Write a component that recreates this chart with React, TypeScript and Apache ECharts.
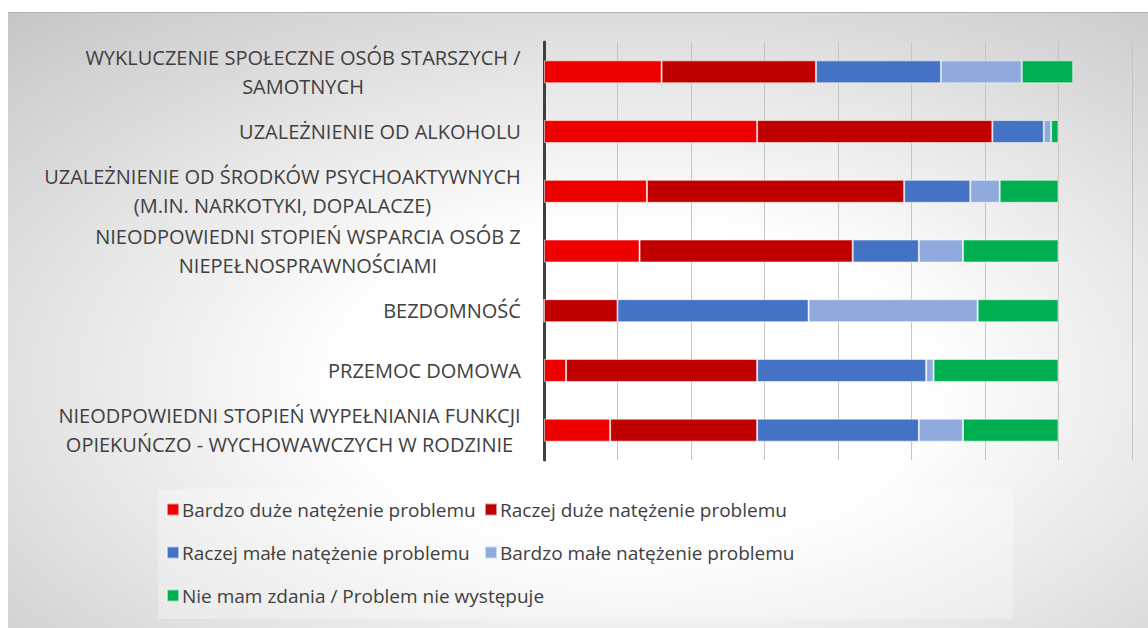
import React, { useEffect, useRef } from "react";
import * as echarts from "echarts";

const categories = [
  "WYKLUCZENIE SPOŁECZNE OSÓB STARSZYCH /\nSAMOTNYCH",
  "UZALEŻNIENIE OD ALKOHOLU",
  "UZALEŻNIENIE OD ŚRODKÓW PSYCHOAKTYWNYCH\n(M.IN. NARKOTYKI, DOPALACZE)",
  "NIEODPOWIEDNI STOPIEŃ WSPARCIA OSÓB Z\nNIEPEŁNOSPRAWNOŚCIAMI",
  "BEZDOMNOŚĆ",
  "PRZEMOC DOMOWA",
  "NIEODPOWIEDNI STOPIEŃ WYPEŁNIANIA FUNKCJI\nOPIEKUŃCZO - WYCHOWAWCZYCH W RODZINIE",
];

const seriesNames = [
  "Bardzo duże natężenie problemu",
  "Raczej duże natężenie problemu",
  "Raczej małe natężenie problemu",
  "Bardzo małe natężenie problemu",
  "Nie mam zdania / Problem nie występuje",
];

const bardzoDuze = [16, 29, 14, 13, 0, 3, 9];
const raczejDuze = [21, 32, 35, 29, 10, 26, 20];
const raczejMale = [17, 7, 9, 9, 26, 23, 22];
const bardzoMale = [11, 1, 4, 6, 23, 1, 6];
const nieMam = [7, 1, 8, 13, 11, 17, 13];

const seriesValues = [bardzoDuze, raczejDuze, raczejMale, bardzoMale, nieMam];
const seriesColors = ["#EE0000", "#C00000", "#4472C4", "#8FAADC", "#00B050"];

const FONT = '"Open Sans", "DejaVu Sans", sans-serif';
const LABEL_SIZE = 20;
const LEGEND_SIZE = 19;
const TEXT_COLOR = "#404040";

function measure(text: string): number {
  const c = document.createElement("canvas");
  const ctx = c.getContext("2d");
  if (!ctx) return text.length * 12;
  ctx.font = `${LABEL_SIZE}px "Open Sans"`;
  return ctx.measureText(text).width;
}

export default function App() {
  const ref = useRef<HTMLDivElement>(null);

  useEffect(() => {
    if (!ref.current) return;
    const chart = echarts.init(ref.current, undefined, { renderer: "svg" });

    const rich: Record<string, any> = {};
    categories.forEach((c, i) => {
      const lines = c.split("\n");
      const w = Math.max(...lines.map((l) => measure(l)));
      rich["c" + i] = {
        width: Math.ceil(w) + 2,
        align: "center",
        fontSize: LABEL_SIZE,
        fontFamily: FONT,
        color: TEXT_COLOR,
        lineHeight: 29,
      };
    });

    const legendPos = [
      { left: 166, top: 500 },
      { left: 484, top: 500 },
      { left: 166, top: 543 },
      { left: 484, top: 543 },
      { left: 166, top: 586 },
    ];

    const option: any = {
      animation: false,
      graphic: [
        {
          type: "rect",
          x: 8,
          y: 12,
          scaleX: 1140 / 616,
          shape: { x: 0, y: 0, width: 616, height: 616 },
          style: {
            fill: {
              type: "radial",
              x: 0.55,
              y: 0.6,
              r: 0.85,
              colorStops: [
                { offset: 0, color: "#ffffff" },
                { offset: 0.3, color: "#ffffff" },
                { offset: 1, color: "#c2c2c2" },
              ],
            },
          },
          z: -10,
          silent: true,
        },
        {
          type: "line",
          shape: { x1: 8, y1: 12.5, x2: 1148, y2: 12.5 },
          style: { stroke: "#b0b0b0", lineWidth: 1 },
          z: -9,
          silent: true,
        },
        {
          type: "rect",
          shape: { x: 158, y: 489, width: 855, height: 130 },
          style: { fill: "rgba(255,255,255,0.3)" },
          z: -9,
          silent: true,
        },
      ],
      grid: { left: 544, right: 16, top: 42, bottom: 168, containLabel: false },
      xAxis: {
        type: "value",
        min: 0,
        max: 80,
        interval: 10,
        axisLabel: { show: false },
        axisLine: { show: false },
        axisTick: { show: false },
        splitLine: { show: true, lineStyle: { color: "#c4c4c4", width: 1 } },
      },
      yAxis: {
        type: "category",
        inverse: true,
        data: categories,
        axisLine: { show: true, lineStyle: { color: "#404040", width: 3 } },
        axisTick: { show: false },
        splitLine: { show: false },
        axisLabel: {
          margin: 22,
          align: "right",
          fontSize: LABEL_SIZE,
          fontFamily: FONT,
          color: TEXT_COLOR,
          lineHeight: 29,
          formatter: (value: string, index: number) =>
            value
              .split("\n")
              .map((l) => `{c${index}|${l}}`)
              .join("\n"),
          rich,
        },
      },
      legend: seriesNames.map((n, i) => ({
        data: [n],
        left: legendPos[i].left,
        top: legendPos[i].top,
        padding: 0,
        icon: "rect",
        itemWidth: 12,
        itemHeight: 12,
        itemGap: 4,
        selectedMode: false,
        textStyle: {
          fontSize: LEGEND_SIZE,
          fontFamily: FONT,
          color: TEXT_COLOR,
          padding: [0, 0, 0, -2],
        },
      })),
      series: seriesNames.map((n, i) => ({
        name: n,
        type: "bar",
        stack: "total",
        barWidth: 23,
        data: seriesValues[i],
        itemStyle: {
          color: seriesColors[i],
          borderColor: "rgba(255,255,255,0.55)",
          borderWidth: 1,
        },
        emphasis: { disabled: true },
      })),
    };

    chart.setOption(option);
    return () => chart.dispose();
  }, []);

  return (
    <div
      ref={ref}
      style={{ position: "absolute", left: 0, top: 0, width: 1148, height: 628 }}
    />
  );
}
